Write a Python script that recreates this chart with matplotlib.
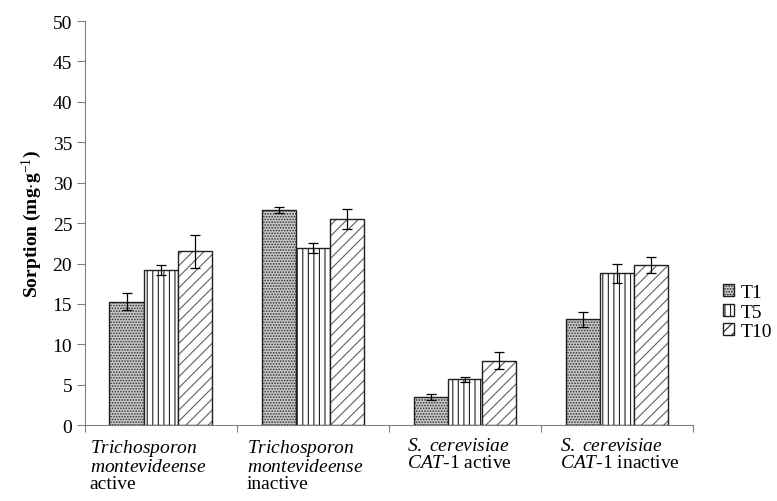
import matplotlib.pyplot as plt
import numpy as np
from matplotlib.patches import Patch
from matplotlib.transforms import blended_transform_factory

plt.rcParams['font.family'] = ['Liberation Serif', 'DejaVu Serif']
plt.rcParams['mathtext.fontset'] = 'custom'
plt.rcParams['mathtext.rm'] = 'Liberation Serif'
plt.rcParams['mathtext.it'] = 'Liberation Serif:italic'
plt.rcParams['mathtext.bf'] = 'Liberation Serif:bold'
plt.rcParams['hatch.linewidth'] = 0.8

# data
categories = [r'$\it{Trichosporon}$' + '\n' + r'$\it{montevideense}$' + '\nactive',
              r'$\it{Trichosporon}$' + '\n' + r'$\it{montevideense}$' + '\ninactive',
              r'$\it{S.\ cerevisiae}$' + '\n' + r'$\it{CAT}$' + '-1 active',
              r'$\it{S.\ cerevisiae}$' + '\n' + r'$\it{CAT}$' + '-1 inactive']
series = ['T1', 'T5', 'T10']
t1 = [15.3, 26.6, 3.5, 13.1]
t5 = [19.2, 21.9, 5.7, 18.8]
t10 = [21.5, 25.5, 8.0, 19.8]
t1_err = [1.1, 0.4, 0.4, 0.9]
t5_err = [0.6, 0.6, 0.3, 1.2]
t10_err = [2.0, 1.2, 1.0, 1.0]

fig = plt.figure(figsize=(7.77, 5.02), dpi=100)
ax = fig.add_axes([0.109, 0.151, 0.783, 0.805])

x = np.arange(len(categories))
w = 0.225
hatches = ['......', '|||', '///']
faces = ['#c8c8c8', 'white', 'white']
hatch_cols = ['#303030', '#202020', '#606060']
handles = []
for k, (vals, errs) in enumerate([(t1, t1_err), (t5, t5_err), (t10, t10_err)]):
    pos = x + (k - 1) * w
    # pattern layer, then a black outline with the error bars on top
    ax.bar(pos, vals, w, color=faces[k], edgecolor=hatch_cols[k], hatch=hatches[k], linewidth=0)
    ax.bar(pos, vals, w, fill=False, edgecolor='#202020', linewidth=1.0,
           yerr=errs, capsize=3.5, error_kw=dict(ecolor='black', elinewidth=0.9, capthick=0.9))
    handles.append(Patch(facecolor=faces[k], edgecolor='#202020', hatch=hatches[k], label=series[k]))

ax.set_xlim(-0.5, len(categories) - 0.5)
ax.set_ylim(0, 50)
ax.set_yticks(np.arange(0, 51, 5))
ax.set_xticks(np.arange(-0.5, len(categories)), [])
ax.tick_params(axis='y', labelsize=14, color='#808080', length=6, pad=3)
ax.tick_params(axis='x', color='#808080', length=5)
for s in ['top', 'right']:
    ax.spines[s].set_visible(False)
for s in ['left', 'bottom']:
    ax.spines[s].set_color('#808080')

ax.set_ylabel(r'Sorption (mg$\cdot$g$^{-1}$)', fontsize=14, fontweight='bold', labelpad=6)

# category labels sit left-aligned under each group
label_offsets = [0.033, 0.066, 0.118, 0.125]
tr = blended_transform_factory(ax.transData, ax.transAxes)
for i, lab in enumerate(categories):
    ax.text(i - 0.5 + label_offsets[i], -0.028, lab, transform=tr, ha='left', va='top',
            fontsize=14, linespacing=1.0)

ax.legend(handles=handles, loc='center left', bbox_to_anchor=(1.049, 0.28), frameon=False,
          fontsize=14, handlelength=0.55, handleheight=0.55, handletextpad=0.35,
          labelspacing=0.12, borderpad=0, borderaxespad=0)

fig.savefig('out.png', dpi=100)
